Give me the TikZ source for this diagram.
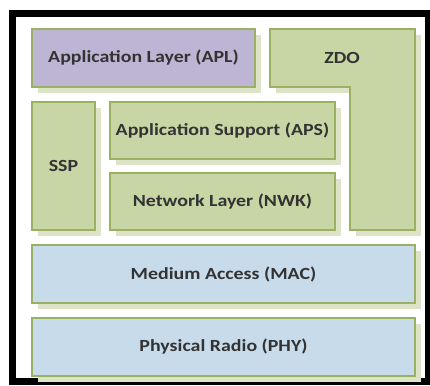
\documentclass[tikz,border=0pt]{standalone}
\usepackage{fontspec}
\setmainfont{Carlito}
\usetikzlibrary{shadows}
\definecolor{layergreen}{HTML}{C8D5A4}
\definecolor{layerline}{HTML}{9AB062}
\definecolor{layerpurple}{HTML}{BDB5D3}
\definecolor{layerblue}{HTML}{C8DBEA}
\definecolor{shadowgreen}{HTML}{DCE3C6}
\definecolor{labeltext}{HTML}{333333}
\newcommand{\layerfont}{\fontsize{17}{20}\selectfont\bfseries\addfontfeatures{FakeStretch=1.17}}
\begin{document}
\begin{tikzpicture}[
    x=1pt, y=-1pt,
    layer/.style={draw=layerline, line width=1.6pt, text=labeltext, font=\layerfont,
      align=center, inner sep=0pt,
      drop shadow={shadow xshift=6pt, shadow yshift=-6pt, fill=shadowgreen, opacity=1}},
    green/.style={layer, fill=layergreen},
    purple/.style={layer, fill=layerpurple},
    blue/.style={layer, fill=layerblue}
  ]
  \useasboundingbox (0,0) rectangle (430,385);

  % outer frame
  \draw[line width=7pt] (12.5,14) rectangle (428,381.5);

  % upper stack
  \node[purple, minimum width=223pt, minimum height=58pt] (apl) at (143.5,58) {Application Layer (APL)};
  \path[green] (270,29) -- (415,29) -- (415,230) -- (350,230) -- (350,87) -- (270,87) -- cycle;
  \node[text=labeltext, font=\layerfont] (zdo) at (342,58) {ZDO};

  % middle layers
  \node[green, minimum width=63pt, minimum height=128pt] (ssp) at (63.5,166) {SSP};
  \node[green, minimum width=225pt, minimum height=57pt] (aps) at (222.5,130.5) {Application Support (APS)};
  \node[green, minimum width=225pt, minimum height=57pt] (nwk) at (222.5,201.5) {Network Layer (NWK)};

  % lower layers
  \node[blue, minimum width=383pt, minimum height=58pt] (mac) at (223.5,274) {Medium Access (MAC)};
  \node[blue, minimum width=383pt, minimum height=58pt] (phy) at (223.5,347) {Physical Radio (PHY)};

\end{tikzpicture}
\end{document}
